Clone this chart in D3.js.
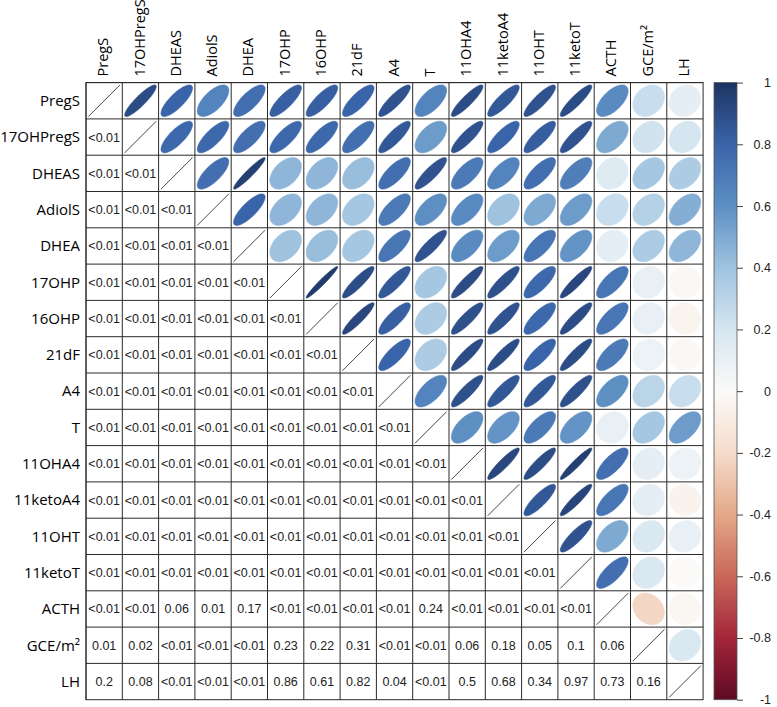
<!DOCTYPE html>
<html><head><meta charset="utf-8">
<script src="https://cdn.jsdelivr.net/npm/d3@7"></script>
<style>body{margin:0;background:#fff}</style>
</head><body><svg id="chart" width="777" height="707"></svg>
<script>
const variables = ["PregS","17OHPregS","DHEAS","AdiolS","DHEA","17OHP","16OHP","21dF","A4","T","11OHA4","11ketoA4","11OHT","11ketoT","ACTH","GCE/m²","LH"];

// correlation coefficients, upper triangle (row i, columns j > i)
const corrUpper = [
  [0.90,0.80,0.65,0.75,0.82,0.82,0.80,0.87,0.65,0.90,0.85,0.87,0.90,0.62,0.25,0.12],
  [0.78,0.78,0.75,0.78,0.78,0.75,0.85,0.55,0.87,0.80,0.83,0.87,0.50,0.22,0.20],
  [0.75,0.95,0.45,0.45,0.42,0.75,0.87,0.70,0.65,0.75,0.68,0.15,0.38,0.35],
  [0.80,0.45,0.45,0.38,0.70,0.60,0.62,0.40,0.50,0.55,0.25,0.32,0.48],
  [0.40,0.42,0.38,0.72,0.87,0.62,0.55,0.72,0.58,0.12,0.35,0.45],
  [0.97,0.90,0.85,0.38,0.90,0.88,0.78,0.92,0.72,0.10,-0.02],
  [0.92,0.82,0.35,0.88,0.87,0.78,0.90,0.72,0.10,-0.04],
  [0.80,0.35,0.90,0.90,0.80,0.90,0.70,0.08,-0.02],
  [0.65,0.88,0.85,0.85,0.88,0.60,0.30,0.25],
  [0.60,0.58,0.70,0.58,0.10,0.38,0.55],
  [0.92,0.90,0.95,0.75,0.12,0.08],
  [0.85,0.93,0.72,0.12,-0.05],
  [0.87,0.50,0.18,0.10],
  [0.75,0.18,0.00],
  [-0.22,-0.03],
  [0.18]
];

// p-values, lower triangle (row i, columns j < i)
const pLower = [
  [],
  ["<0.01"],
  ["<0.01","<0.01"],
  ["<0.01","<0.01","<0.01"],
  ["<0.01","<0.01","<0.01","<0.01"],
  ["<0.01","<0.01","<0.01","<0.01","<0.01"],
  ["<0.01","<0.01","<0.01","<0.01","<0.01","<0.01"],
  ["<0.01","<0.01","<0.01","<0.01","<0.01","<0.01","<0.01"],
  ["<0.01","<0.01","<0.01","<0.01","<0.01","<0.01","<0.01","<0.01"],
  ["<0.01","<0.01","<0.01","<0.01","<0.01","<0.01","<0.01","<0.01","<0.01"],
  ["<0.01","<0.01","<0.01","<0.01","<0.01","<0.01","<0.01","<0.01","<0.01","<0.01"],
  ["<0.01","<0.01","<0.01","<0.01","<0.01","<0.01","<0.01","<0.01","<0.01","<0.01","<0.01"],
  ["<0.01","<0.01","<0.01","<0.01","<0.01","<0.01","<0.01","<0.01","<0.01","<0.01","<0.01","<0.01"],
  ["<0.01","<0.01","<0.01","<0.01","<0.01","<0.01","<0.01","<0.01","<0.01","<0.01","<0.01","<0.01","<0.01"],
  ["<0.01","<0.01","0.06","0.01","0.17","<0.01","<0.01","<0.01","<0.01","0.24","<0.01","<0.01","<0.01","<0.01"],
  ["0.01","0.02","<0.01","<0.01","<0.01","0.23","0.22","0.31","<0.01","<0.01","0.06","0.18","0.05","0.1","0.06"],
  ["0.2","0.08","<0.01","<0.01","<0.01","0.86","0.61","0.82","0.04","<0.01","0.5","0.68","0.34","0.97","0.73","0.16"]
];

const legendTicks = [1,0.8,0.6,0.4,0.2,0,-0.2,-0.4,-0.6,-0.8,-1];
const legendLabels = ["1","0.8","0.6","0.4","0.2","0","-0.2","-0.4","-0.6","-0.8","-1"];
const paletteStops = [-1,-0.8,-0.6,-0.4,-0.2,0,0.2,0.4,0.6,0.8,1];
const paletteColors = ["#5e0a23","#a3263a","#c9685a","#e4a888","#f5dccb","#fbfaf8","#d6e6f1","#9fc3df","#5d8fc3","#3a64a9","#1d3461"];

const svg = d3.select("#chart");
const gridLeft = 86, gridTop = 82.6, gridSize = 617.1;
const x = d3.scaleBand().domain(variables).range([gridLeft, gridLeft + gridSize]);
const y = d3.scaleBand().domain(variables).range([gridTop, gridTop + gridSize]);
const bw = x.bandwidth();
const color = d3.scaleLinear().domain(paletteStops).range(paletteColors);
const unit = d3.scaleLinear().domain([-0.5, 0.5]).range([-0.435 * bw, 0.435 * bw]);

const labelFont = "'Open Sans', 'DejaVu Sans', sans-serif";
const numFont = "'Liberation Sans', Arial, sans-serif";

// cells
const cells = [];
variables.forEach((rv, i) => {
  variables.forEach((cv, j) => {
    if (j > i) cells.push({type: "corr", row: rv, col: cv, r: corrUpper[i][j - i - 1]});
    else if (j < i) cells.push({type: "p", row: rv, col: cv, p: pLower[i][j]});
    else cells.push({type: "diag", row: rv, col: cv});
  });
});

const cellG = svg.append("g");
const ellipsePoints = r => {
  const d = Math.acos(Math.max(-1, Math.min(1, r)));
  return d3.range(0, 101).map(k => {
    const t = k / 100 * 2 * Math.PI;
    return [Math.cos(t + d / 2) / 2, Math.cos(t - d / 2) / 2];
  });
};

cells.forEach(c => {
  const cx = x(c.col) + bw / 2, cy = y(c.row) + bw / 2;
  if (c.type === "corr") {
    const line = d3.line().x(p => cx + unit(p[0])).y(p => cy - unit(p[1])).curve(d3.curveLinearClosed);
    cellG.append("path").attr("d", line(ellipsePoints(c.r)))
      .attr("fill", color(c.r)).attr("stroke", color(c.r)).attr("stroke-width", 0.6);
  } else if (c.type === "p") {
    cellG.append("text").attr("x", cx).attr("y", cy).attr("dy", "0.36em")
      .attr("text-anchor", "middle").attr("font-family", numFont).attr("font-size", "12.5px")
      .attr("fill", "#222").text(c.p);
  } else {
    cellG.append("line").attr("x1", cx + unit(-0.5)).attr("y1", cy - unit(-0.5))
      .attr("x2", cx + unit(0.5)).attr("y2", cy - unit(0.5))
      .attr("stroke", "#333").attr("stroke-width", 0.9);
  }
});

// grid
const gridG = svg.append("g");
variables.forEach(v => {
  gridG.append("line").attr("x1", x(v)).attr("x2", x(v)).attr("y1", gridTop).attr("y2", gridTop + gridSize)
    .attr("stroke", "#2a2a2a").attr("stroke-width", 1);
  gridG.append("line").attr("y1", y(v)).attr("y2", y(v)).attr("x1", gridLeft).attr("x2", gridLeft + gridSize)
    .attr("stroke", "#2a2a2a").attr("stroke-width", 1);
});
gridG.append("rect").attr("x", gridLeft).attr("y", gridTop).attr("width", gridSize).attr("height", gridSize)
  .attr("fill", "none").attr("stroke", "#2a2a2a").attr("stroke-width", 1);

// row labels
svg.append("g").selectAll("text").data(variables).join("text")
  .attr("x", 80).attr("y", d => y(d) + bw / 2).attr("dy", "0.35em")
  .attr("text-anchor", "end").attr("font-family", labelFont).attr("font-size", "15px")
  .attr("fill", "#000").text(d => d);

// column labels
svg.append("g").selectAll("text").data(variables).join("text")
  .attr("transform", d => `translate(${x(d) + bw / 2 - 1},76.5) rotate(-90)`)
  .attr("dy", "0.35em").attr("text-anchor", "start")
  .attr("font-family", labelFont).attr("font-size", "14.5px")
  .attr("fill", "#000").text(d => d);

// color legend
const ly = d3.scaleLinear().domain([-1, 1]).range([gridTop + gridSize, gridTop]);
const defs = svg.append("defs");
const grad = defs.append("linearGradient").attr("id", "cbar").attr("x1", 0).attr("x2", 0).attr("y1", 1).attr("y2", 0);
paletteStops.forEach((s, i) => grad.append("stop").attr("offset", (s + 1) / 2).attr("stop-color", paletteColors[i]));
const barX = 714, barW = 23;
svg.append("rect").attr("x", barX).attr("y", ly(1)).attr("width", barW).attr("height", ly(-1) - ly(1))
  .attr("fill", "url(#cbar)").attr("stroke", "#555").attr("stroke-width", 0.8);
const axis = d3.axisRight(ly).tickValues(legendTicks).tickSize(6)
  .tickFormat((d, i) => legendLabels[i]);
const ag = svg.append("g").attr("transform", `translate(${barX + barW},0)`).call(axis);
ag.select(".domain").remove();
ag.selectAll(".tick line").attr("stroke", "#444");
ag.selectAll(".tick text").attr("x", 34).attr("text-anchor", "end")
  .attr("font-family", numFont).attr("font-size", "12.5px").attr("fill", "#222");
</script>
</body></html>
